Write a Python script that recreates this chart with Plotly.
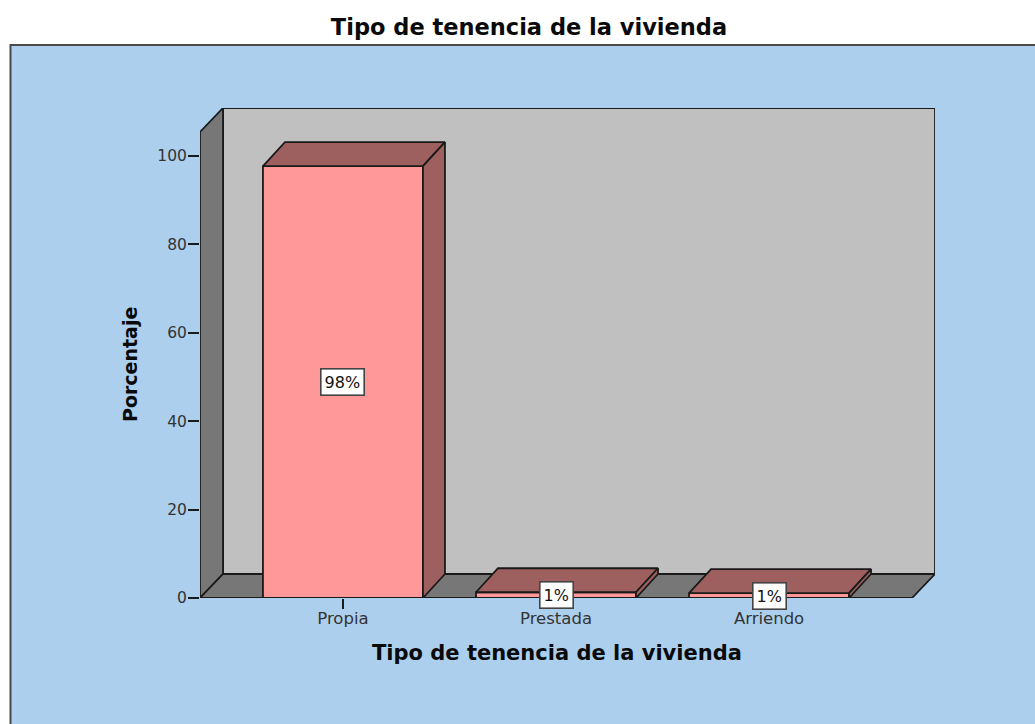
import plotly.graph_objects as go

# Data
categories = ["Propia", "Prestada", "Arriendo"]
values = [97.7, 1.3, 1.1]
labels = ["98%", "1%", "1%"]
y_ticks = [0, 20, 40, 60, 80, 100]
chart_title = "Tipo de tenencia de la vivienda"
x_title = "Tipo de tenencia de la vivienda"
y_title = "Porcentaje"

# Style / geometry
W, H = 1035, 724
L, R, T, B = 200, 935, 108, 598        # plot box in pixels
X_MIN, X_MAX = -0.671, 2.779
Y_MAX = 110.86
DX, DY = 0.1033, 5.43                  # bar depth in axis units
WALL_DX = 0.108                        # wall depth in axis units
BAR_W = 0.751
INK = "#1a1a1a"
PANEL = "#ACCFEE"
BACK = "#C0C0C0"
WALL = "#777777"
FRONT = "#FF9999"
SHADE = "#9E5F5F"
TFONT = "DejaVu Sans"

cats = list(range(len(categories)))


def poly(xs, ys, fill):
    path = "M " + " L ".join(f"{a},{b}" for a, b in zip(xs, ys)) + " Z"
    return dict(type="path", path=path, xref="x", yref="y", layer="below",
                fillcolor=fill, line=dict(color=INK, width=1.8))


x0, x1 = X_MIN, X_MAX - WALL_DX
top = Y_MAX - DY
shapes = [
    dict(type="rect", xref="paper", yref="paper", layer="below",
         x0=(10.5 - L) / (R - L), x1=(W + 20 - L) / (R - L),
         y0=(B - H - 20) / (B - T), y1=(B - 45) / (B - T),
         fillcolor=PANEL, line=dict(color="#4a4a4a", width=2)),
    poly([x0 + WALL_DX, X_MAX, X_MAX, x0 + WALL_DX], [DY, DY, Y_MAX, Y_MAX], BACK),
    poly([x0, x0 + WALL_DX, x0 + WALL_DX, x0], [0, DY, Y_MAX, top], WALL),
    poly([x0, x0 + WALL_DX, X_MAX, x1], [0, DY, DY, 0], WALL),
]

fig = go.Figure()
fig.add_trace(go.Bar(
    x=cats, y=values, width=BAR_W, cliponaxis=False,
    marker=dict(color=FRONT, line=dict(color=INK, width=1.8)),
    hoverinfo="skip", showlegend=False,
))

for c, v in zip(cats, values):
    a, b = c - BAR_W / 2, c + BAR_W / 2
    for xs, ys in (
        ([a, a + DX, b + DX, b, a], [v, v + DY, v + DY, v, v]),
        ([b, b + DX, b + DX, b, b], [v, v + DY, DY, 0, v]),
    ):
        fig.add_trace(go.Scatter(
            x=xs, y=ys, mode="lines", fill="toself", fillcolor=SHADE,
            line=dict(color=INK, width=1.8), cliponaxis=False,
            hoverinfo="skip", showlegend=False,
        ))

annotations = [
    dict(x=c, y=v / 2, xref="x", yref="y", text=t, showarrow=False,
         font=dict(family=TFONT, size=16, color="#111111"),
         bgcolor="white", bordercolor="#444444", borderwidth=1.6, borderpad=3)
    for c, v, t in zip(cats, values, labels)
]
annotations += [
    dict(x=(557 - L) / (R - L), y=(B - 653) / (B - T), xref="paper", yref="paper",
         xanchor="center", yanchor="middle",
         text=f"<b>{x_title}</b>", showarrow=False,
         font=dict(family=TFONT, size=21, color="#0a0a0a")),
    dict(x=(130 - L) / (R - L), y=(B - 365) / (B - T), xref="paper", yref="paper",
         xanchor="center", yanchor="middle",
         text=f"<b>{y_title}</b>", showarrow=False, textangle=-90,
         font=dict(family=TFONT, size=19, color="#0a0a0a")),
]

fig.update_layout(
    width=W, height=H, autosize=False,
    margin=dict(l=L, r=W - R, t=T, b=H - B, pad=0),
    paper_bgcolor="white", plot_bgcolor="rgba(0,0,0,0)",
    showlegend=False, shapes=shapes, annotations=annotations,
    title=dict(text=f"<b>{chart_title}</b>", x=529 / W, xanchor="center",
               xref="container", y=1 - 27 / H, yanchor="middle",
               font=dict(family=TFONT, size=22.5, color="#0a0a0a")),
    xaxis=dict(range=[X_MIN, X_MAX], tickmode="array", tickvals=cats, ticktext=categories,
               ticks="outside", ticklen=10, tickwidth=1.6, tickcolor=INK,
               ticklabelstandoff=-5,
               showgrid=False, zeroline=False, showline=False, automargin=False,
               tickfont=dict(family=TFONT, size=16.5, color="#333333")),
    yaxis=dict(range=[0, Y_MAX], tickmode="array", tickvals=y_ticks,
               ticks="outside", ticklen=11, tickwidth=1.6, tickcolor=INK,
               ticklabelstandoff=-2,
               showgrid=False, zeroline=False, showline=False, automargin=False,
               tickfont=dict(family=TFONT, size=15.5, color="#333333")),
)

fig.write_html("out.html", config={"displayModeBar": False},
               post_script="document.body.style.margin='0';")
